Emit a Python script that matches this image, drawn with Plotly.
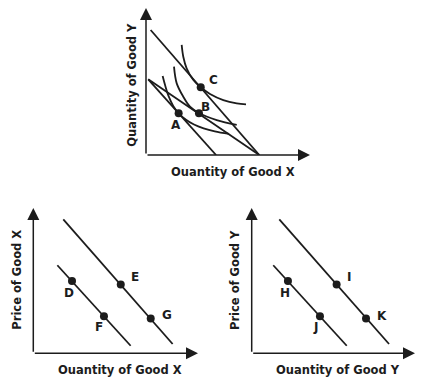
import plotly.graph_objects as go

W, H = 421, 382

# ---------------- Top panel: indifference curves & budget lines (arbitrary units)
budget1_x = [0.29, 7.08]
budget1_y = [8.62, 0.0]
budget2_x = [0.14, 7.08]
budget2_y = [5.22, 0.0]
budget3_x = [0.14, 4.38]
budget3_y = [5.22, 0.0]
ic1_x = [1.04, 1.2, 1.4, 1.7, 2.04, 2.5, 3.0, 3.6, 4.3, 5.19]
ic1_y = [5.45, 4.79, 4.09, 3.39, 2.88, 2.43, 2.10, 1.84, 1.63, 1.45]
ic2_x = [1.75, 1.92, 2.33, 2.75, 3.33, 4.42, 5.67]
ic2_y = [6.09, 4.94, 4.02, 3.33, 2.88, 2.41, 2.07]
ic3_x = [2.23, 2.33, 2.54, 2.96, 3.42, 4.0, 4.83, 5.67, 6.25]
ic3_y = [7.59, 6.78, 5.98, 5.17, 4.67, 4.21, 3.79, 3.56, 3.49]
top_names = ["A", "B", "C"]
top_x = [2.04, 3.31, 3.42]
top_y = [2.88, 2.88, 4.67]
top_label_x = [1.875, 3.73, 4.21]
top_label_y = [2.05, 3.29, 5.17]

# ---------------- Bottom-left panel: market for good X
dx_high_x = [1.82, 8.46]
dx_high_y = [9.22, 0.64]
dx_low_x = [1.46, 5.91]
dx_low_y = [6.06, 0.52]
bl_names = ["D", "E", "F", "G"]
bl_x = [2.35, 5.31, 4.29, 7.13]
bl_y = [4.97, 4.74, 2.55, 2.40]
bl_label_x = [2.17, 6.17, 3.97, 8.10]
bl_label_y = [4.13, 5.23, 1.83, 2.64]

# ---------------- Bottom-right panel: market for good Y
dy_high_x = [1.69, 8.41]
dy_high_y = [9.22, 0.64]
dy_low_x = [1.32, 5.82]
dy_low_y = [6.06, 0.52]
br_names = ["H", "I", "J", "K"]
br_x = [2.22, 5.20, 4.18, 7.00]
br_y = [4.97, 4.74, 2.55, 2.40]
br_label_x = [2.04, 5.98, 3.88, 7.96]
br_label_y = [4.17, 5.23, 1.83, 2.57]

# panel geometry in pixels: origin, tips, px per unit
panels = {
    "top": dict(ox=146, oy=155, tx=310, ty=8, sx=16.0, sy=14.5),
    "bl": dict(ox=33.3, oy=353.3, tx=198, ty=208, sx=16.47, sy=14.53),
    "br": dict(ox=251.7, oy=353.3, tx=415, ty=208, sx=16.33, sy=14.53),
}
axis_ids = {"top": ("x", "y"), "bl": ("x2", "y2"), "br": ("x3", "y3")}

INK = "#1c1c1c"
FONT = "DejaVu Sans"
LW = 1.8

fig = go.Figure()


def add_line(xs, ys, panel, smooth=False):
    xa, ya = axis_ids[panel]
    fig.add_trace(go.Scatter(
        x=xs, y=ys, xaxis=xa, yaxis=ya, mode="lines",
        line=dict(color=INK, width=LW, shape="spline" if smooth else "linear",
                  smoothing=1.0),
        hoverinfo="skip", showlegend=False))


def add_points(xs, ys, panel):
    xa, ya = axis_ids[panel]
    fig.add_trace(go.Scatter(
        x=xs, y=ys, xaxis=xa, yaxis=ya, mode="markers",
        marker=dict(color=INK, size=8), hoverinfo="skip", showlegend=False,
        cliponaxis=False))


def add_labels(names, xs, ys, panel):
    xa, ya = axis_ids[panel]
    for n, x, y in zip(names, xs, ys):
        fig.add_annotation(x=x, y=y, xref=xa, yref=ya, text=n, showarrow=False,
                           font=dict(family=FONT, size=12, color=INK, weight="bold"),
                           xanchor="center", yanchor="middle")


# top
add_line(budget1_x, budget1_y, "top")
add_line(budget2_x, budget2_y, "top")
add_line(budget3_x, budget3_y, "top")
add_line(ic1_x, ic1_y, "top", smooth=True)
add_line(ic2_x, ic2_y, "top", smooth=True)
add_line(ic3_x, ic3_y, "top", smooth=True)
add_points(top_x, top_y, "top")
add_labels(top_names, top_label_x, top_label_y, "top")

# bottom-left
add_line(dx_high_x, dx_high_y, "bl")
add_line(dx_low_x, dx_low_y, "bl")
add_points(bl_x, bl_y, "bl")
add_labels(bl_names, bl_label_x, bl_label_y, "bl")

# bottom-right
add_line(dy_high_x, dy_high_y, "br")
add_line(dy_low_x, dy_low_y, "br")
add_points(br_x, br_y, "br")
add_labels(br_names, br_label_x, br_label_y, "br")

layout_axes = {}
for key, p in panels.items():
    xa, ya = axis_ids[key]
    xr = (p["tx"] - p["ox"]) / p["sx"]
    yr = (p["oy"] - p["ty"]) / p["sy"]
    xname = "xaxis" if xa == "x" else "xaxis" + xa[1:]
    yname = "yaxis" if ya == "y" else "yaxis" + ya[1:]
    layout_axes[xname] = dict(domain=[p["ox"] / W, p["tx"] / W], range=[0, xr],
                              visible=False, fixedrange=True, anchor=ya)
    layout_axes[yname] = dict(domain=[1 - p["oy"] / H, 1 - p["ty"] / H], range=[0, yr],
                              visible=False, fixedrange=True, anchor=xa)
    # axis arrows
    fig.add_annotation(x=xr, y=0, ax=0, ay=0, xref=xa, yref=ya, axref=xa, ayref=ya,
                       showarrow=True, arrowhead=2, arrowsize=1.6, arrowwidth=1.5,
                       arrowcolor=INK, text="", standoff=0)
    fig.add_annotation(x=0, y=yr, ax=0, ay=0, xref=xa, yref=ya, axref=xa, ayref=ya,
                       showarrow=True, arrowhead=2, arrowsize=1.6, arrowwidth=1.5,
                       arrowcolor=INK, text="", standoff=0)

titles = [
    ("Ouantity of Good X", 233.3, 171.7, 0),
    ("Quantity of Good Y", 131.7, 85.0, -90),
    ("Ouantity of Good X", 120.0, 370.0, 0),
    ("Price of Good X", 16.7, 280.0, -90),
    ("Ouantity of Good Y", 338.3, 370.0, 0),
    ("Price of Good Y", 235.0, 280.0, -90),
]
for t, px, py, ang in titles:
    fig.add_annotation(x=px / W, y=1 - py / H, xref="paper", yref="paper", text=t,
                       showarrow=False, textangle=ang, xanchor="center", yanchor="middle",
                       font=dict(family=FONT, size=11.5, color=INK, weight="bold"))

fig.update_layout(width=W, height=H, margin=dict(l=0, r=0, t=0, b=0),
                  paper_bgcolor="white", plot_bgcolor="white", showlegend=False,
                  **layout_axes)

fig.write_html("out.html", config={"displayModeBar": False},
               post_script="document.body.style.margin='0px';document.body.style.overflow='hidden';")
